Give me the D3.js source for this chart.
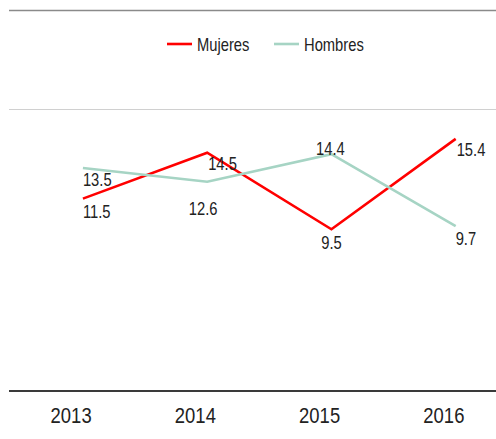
<!DOCTYPE html>
<html>
<head>
<meta charset="utf-8">
<script src="https://cdn.jsdelivr.net/npm/d3@7"></script>
<style>
  html, body { margin: 0; padding: 0; background: #fff; }
  svg { display: block; }
  text { font-family: "Liberation Sans", Arial, sans-serif; fill: #222; }
</style>
</head>
<body>
<div id="chart"></div>
<script>
const years = ["2013", "2014", "2015", "2016"];
const mujeres = [11.5, 14.5, 9.5, 15.4];
const hombres = [13.5, 12.6, 14.4, 9.7];
const seriesNames = ["Mujeres", "Hombres"];
const seriesColors = ["#ff0000", "#a6d4c4"];

// label placement relative to each point: [anchor, dx, dy]
const labelPlace = {
  Mujeres: [["start", 0, 19], ["start", 1, 17], ["middle", 0, 20], ["start", 1, 17]],
  Hombres: [["start", 0, 18], ["middle", -4, 33], ["middle", -1, 1], ["start", 0, 19]]
};

const W = 496, H = 439;
const NARROW = 0.82;
const svg = d3.select("#chart").append("svg").attr("width", W).attr("height", H);

const xBand = d3.scaleBand().domain(years).range([9, 506]);
const pointOffset = 11.8;
const px = d => xBand(d) + xBand.bandwidth() / 2 + pointOffset;
const y = d3.scaleLinear().domain([0, 20]).range([374.8, 68.4]);

// frame lines
svg.append("line").attr("x1", 9).attr("x2", W).attr("y1", 10.5).attr("y2", 10.5)
  .attr("stroke", "#8a8a8a").attr("stroke-width", 1.3);
svg.append("line").attr("x1", 9).attr("x2", W).attr("y1", 109.5).attr("y2", 109.5)
  .attr("stroke", "#d0d0d0").attr("stroke-width", 1.2);

// x axis
const xAxis = d3.axisBottom(xBand).tickSize(0).tickPadding(0);
const gx = svg.append("g").attr("transform", "translate(0,391)").call(xAxis);
gx.select(".domain").attr("d", `M9,0H${W}`).attr("stroke", "#3a3a3a").attr("stroke-width", 2);
gx.selectAll(".tick text").attr("font-size", 22.5).attr("dy", 0).attr("y", 32)
  .attr("transform", `scale(${NARROW},1)`)
  .style("font-family", '"Liberation Sans", Arial, sans-serif').attr("fill", "#222");

const data = [mujeres, hombres];
const line = d3.line().x((d, i) => px(years[i])).y(d => y(d));

data.forEach((vals, si) => {
  svg.append("path").datum(vals).attr("d", line)
    .attr("fill", "none").attr("stroke", seriesColors[si]).attr("stroke-width", 2.6)
    .attr("stroke-linejoin", "miter");
});

data.forEach((vals, si) => {
  const place = labelPlace[seriesNames[si]];
  svg.append("g").selectAll("text").data(vals).join("text")
    .attr("transform", (d, i) => `translate(${px(years[i]) + place[i][1]},${y(d) + place[i][2]}) scale(${NARROW},1)`)
    .attr("text-anchor", (d, i) => place[i][0])
    .attr("font-size", 18)
    .text(d => d.toFixed(1));
});

// legend
const legend = svg.append("g");
const legendItems = [{x: 167, tx: 197}, {x: 274, tx: 304}];
seriesNames.forEach((name, i) => {
  legend.append("line").attr("x1", legendItems[i].x).attr("x2", legendItems[i].x + 25)
    .attr("y1", 44).attr("y2", 44).attr("stroke", seriesColors[i]).attr("stroke-width", 2.6);
  legend.append("text").attr("transform", `translate(${legendItems[i].tx},50.5) scale(${NARROW},1)`)
    .attr("font-size", 18).text(name);
});
</script>
</body>
</html>
